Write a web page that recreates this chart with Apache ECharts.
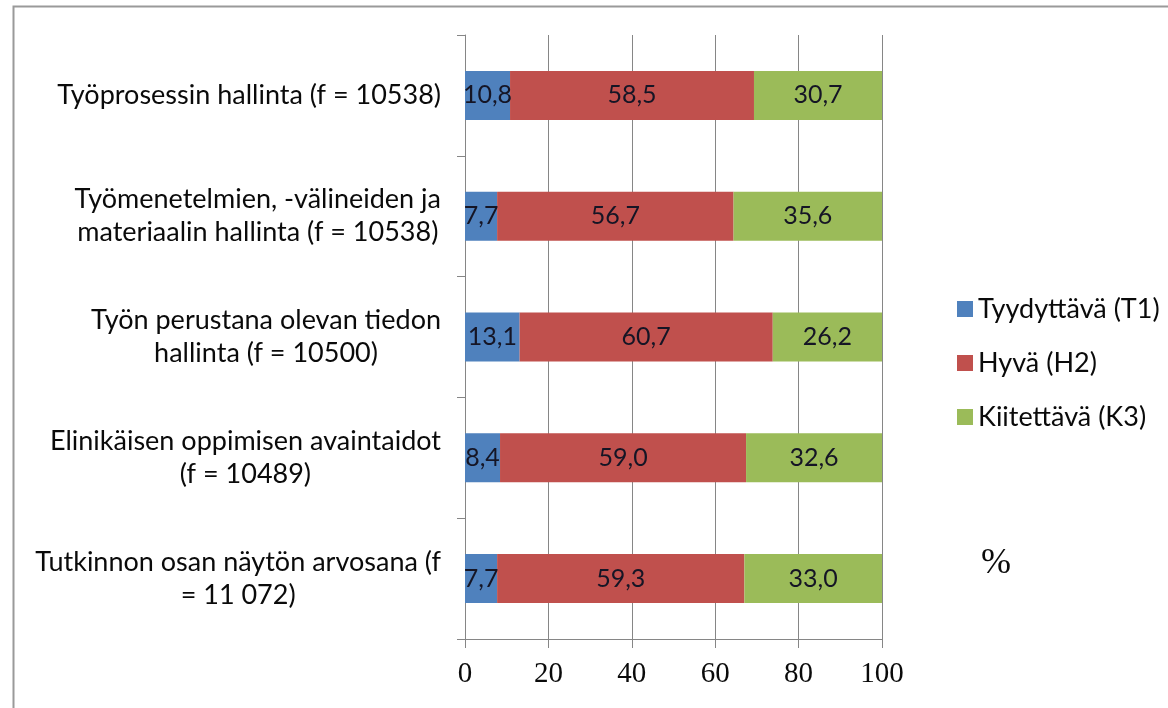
<!DOCTYPE html>
<html>
<head>
<meta charset="utf-8">
<script src="https://cdn.jsdelivr.net/npm/echarts@6/dist/echarts.min.js"></script>
<style>
html,body{margin:0;padding:0;background:#fff;}
#c{width:1168px;height:708px;}
</style>
</head>
<body>
<div id="c"></div>
<script>
// categories listed bottom to top (ECharts category axis runs upward)
const categories = [
  "Tutkinnon osan näytön arvosana (f\n= 11 072)",
  "Elinikäisen oppimisen avaintaidot\n(f = 10489)",
  "Työn perustana olevan tiedon\nhallinta (f = 10500)",
  "Työmenetelmien, -välineiden ja\nmateriaalin hallinta (f = 10538)",
  "Työprosessin hallinta (f = 10538)"
];
const seriesNames = ["Tyydyttävä (T1)", "Hyvä (H2)", "Kiitettävä (K3)"];
const t1 = [7.7, 8.4, 13.1, 7.7, 10.8];
const h2 = [59.3, 59.0, 60.7, 56.7, 58.5];
const k3 = [33.0, 32.6, 26.2, 35.6, 30.7];
const xTicks = [0, 20, 40, 60, 80, 100];
const colors = ["#4F81BD", "#C0504D", "#9BBB59"];

const labelFont = "Lato";
const fmt = p => p.value.toFixed(1).replace('.', ',');

function mkSeries(name, data, color) {
  return {
    name: name,
    type: 'bar',
    stack: 'total',
    data: data,
    barWidth: 49,
    itemStyle: { color: color },
    label: {
      show: true,
      position: 'inside',
      formatter: fmt,
      color: '#151525',
      fontFamily: labelFont,
      fontSize: 25
    },
    emphasis: { disabled: true }
  };
}

const chart = echarts.init(document.getElementById('c'), null, { renderer: 'canvas' });
chart.setOption({
  backgroundColor: '#ffffff',
  animation: false,
  grid: { left: 465, right: 286, top: 35, bottom: 69, containLabel: false },
  legend: {
    orient: 'vertical',
    left: 952,
    top: 290,
    itemWidth: 16,
    itemHeight: 16,
    itemGap: 26,
    icon: 'rect',
    data: seriesNames,
    textStyle: { fontFamily: labelFont, fontSize: 27, lineHeight: 28, color: '#0a0a0a' },
    selectedMode: false
  },
  xAxis: {
    type: 'value',
    min: 0,
    max: 100,
    interval: 20,
    axisLine: { show: true, lineStyle: { color: '#868686', width: 1 } },
    axisTick: { show: true, length: 9, lineStyle: { color: '#868686' } },
    splitLine: { show: true, lineStyle: { color: '#868686', width: 1 } },
    axisLabel: {
      fontFamily: 'Liberation Serif',
      fontSize: 29,
      color: '#0a0a0a',
      margin: 21,
      formatter: v => xTicks.includes(v) ? String(v) : ''
    }
  },
  yAxis: {
    type: 'category',
    data: categories,
    axisLine: { show: true, lineStyle: { color: '#868686', width: 1 } },
    axisTick: { show: true, length: 8, lineStyle: { color: '#868686' } },
    axisLabel: {
      margin: 24,
      formatter: v => v.split('\n').map(s => '{c|' + s + '}').join('\n'),
      rich: {
        c: { align: 'center', fontFamily: labelFont, fontSize: 27, lineHeight: 33, color: '#0a0a0a' }
      }
    }
  },
  series: [
    mkSeries(seriesNames[0], t1, colors[0]),
    mkSeries(seriesNames[1], h2, colors[1]),
    mkSeries(seriesNames[2], k3, colors[2])
  ],
  graphic: [
    {
      type: 'rect',
      left: 11, top: 4,
      shape: { width: 1300, height: 900 },
      style: { fill: 'none', stroke: '#9a9a9a', lineWidth: 2 },
      silent: true
    },
    {
      type: 'text',
      left: 981, top: 546,
      style: { text: '%', font: '36px "Liberation Serif"', fill: '#0a0a0a' },
      silent: true
    }
  ]
});
</script>
</body>
</html>
